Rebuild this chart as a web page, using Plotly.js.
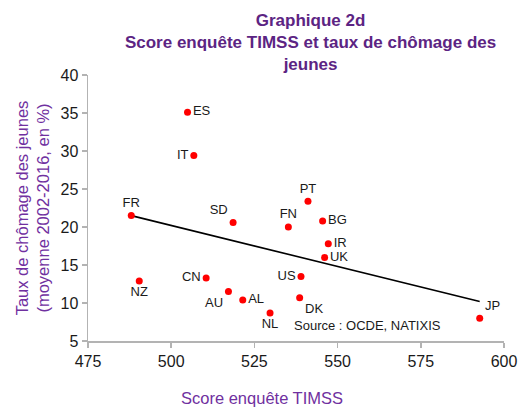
<!DOCTYPE html>
<html>
<head>
<meta charset="utf-8">
<script src="https://cdn.plot.ly/plotly-3.0.1.min.js"></script>
<style>html,body{margin:0;padding:0;background:#fff;}#chart{width:520px;height:407px;}</style>
</head>
<body>
<div id="chart"></div>
<script>
const countries = ["ES","IT","FR","SD","FN","PT","BG","IR","UK","US","DK","JP","CN","NZ","AU","AL","NL"];
const timssScore = [504.9,506.8,488.0,518.6,535.2,541.1,545.5,547.2,546.1,539.0,538.6,592.7,510.5,490.4,517.2,521.5,529.7];
const youthUnemp = [35.1,29.4,21.5,20.6,20.0,23.4,20.8,17.8,16.0,13.5,10.7,8.0,13.3,12.9,11.5,10.4,8.7];
const labelPos = ["middle right","middle left","top center","top left","top center","top center","middle right","middle right","middle right","middle left","bottom right","top right","middle left","bottom center","bottom left","middle right","bottom center"];
const trendX = [488.0, 592.7];
const trendY = [21.5, 10.2];
const xTicks = [475,500,525,550,575,600];
const yTicks = [5,10,15,20,25,30,35,40];

const titleColor = "#5c2483";
const axisTitleColor = "#7030a0";
const axisColor = "#b3b3b3";
const font = "Liberation Sans, Arial, sans-serif";

const traces = [
  {
    x: trendX, y: trendY, mode: "lines", type: "scatter",
    line: {color: "#000000", width: 1.6}, hoverinfo: "skip", showlegend: false
  },
  {
    x: timssScore, y: youthUnemp, text: countries, mode: "markers+text", type: "scatter",
    textposition: labelPos,
    textfont: {family: font, size: 13, color: "#1a1a1a"},
    marker: {color: "#ff0000", size: 7},
    showlegend: false
  }
];

const layout = {
  width: 520, height: 407,
  margin: {l: 88, r: 16, t: 75, b: 66},
  paper_bgcolor: "#ffffff", plot_bgcolor: "#ffffff",
  font: {family: font, color: "#1a1a1a"},
  showlegend: false,
  title: {
    text: "<b>Graphique 2d<br>Score enquête TIMSS et taux de chômage des<br>jeunes</b>",
    font: {family: font, size: 17, color: titleColor},
    x: 0.535, xanchor: "center", xref: "paper",
    y: 0.937, yanchor: "top", yref: "container"
  },
  xaxis: {
    range: [475, 600], tickvals: xTicks, ticktext: xTicks.map(String),
    showgrid: false, zeroline: false,
    showline: true, linecolor: axisColor, linewidth: 1.5,
    ticks: "outside", ticklen: 5, tickcolor: axisColor, tickwidth: 1.5,
    tickfont: {family: font, size: 16, color: "#1a1a1a"}
  },
  yaxis: {
    range: [5, 40], tickvals: yTicks, ticktext: yTicks.map(String),
    showgrid: false, zeroline: false,
    showline: true, linecolor: axisColor, linewidth: 1.5,
    ticks: "outside", ticklen: 5, tickcolor: axisColor, tickwidth: 1.5,
    tickfont: {family: font, size: 16, color: "#1a1a1a"},
    title: {
      text: "Taux de chômage des jeunes<br>(moyenne 2002-2016, en %)",
      font: {family: font, size: 16.5, color: axisTitleColor},
      standoff: 6
    }
  },
  annotations: [
    {
      text: "Score enquête TIMSS", xref: "paper", yref: "paper",
      x: 0.418, y: -0.215, xanchor: "center", yanchor: "middle", showarrow: false,
      font: {family: font, size: 16.5, color: axisTitleColor}
    },
    {
      text: "Source : OCDE, NATIXIS", xref: "x", yref: "y",
      x: 536.3, y: 7.1, xanchor: "left", yanchor: "middle", showarrow: false,
      font: {family: font, size: 13, color: "#1a1a1a"}
    }
  ]
};

Plotly.newPlot("chart", traces, layout, {displayModeBar: false, staticPlot: true});
</script>
</body>
</html>
